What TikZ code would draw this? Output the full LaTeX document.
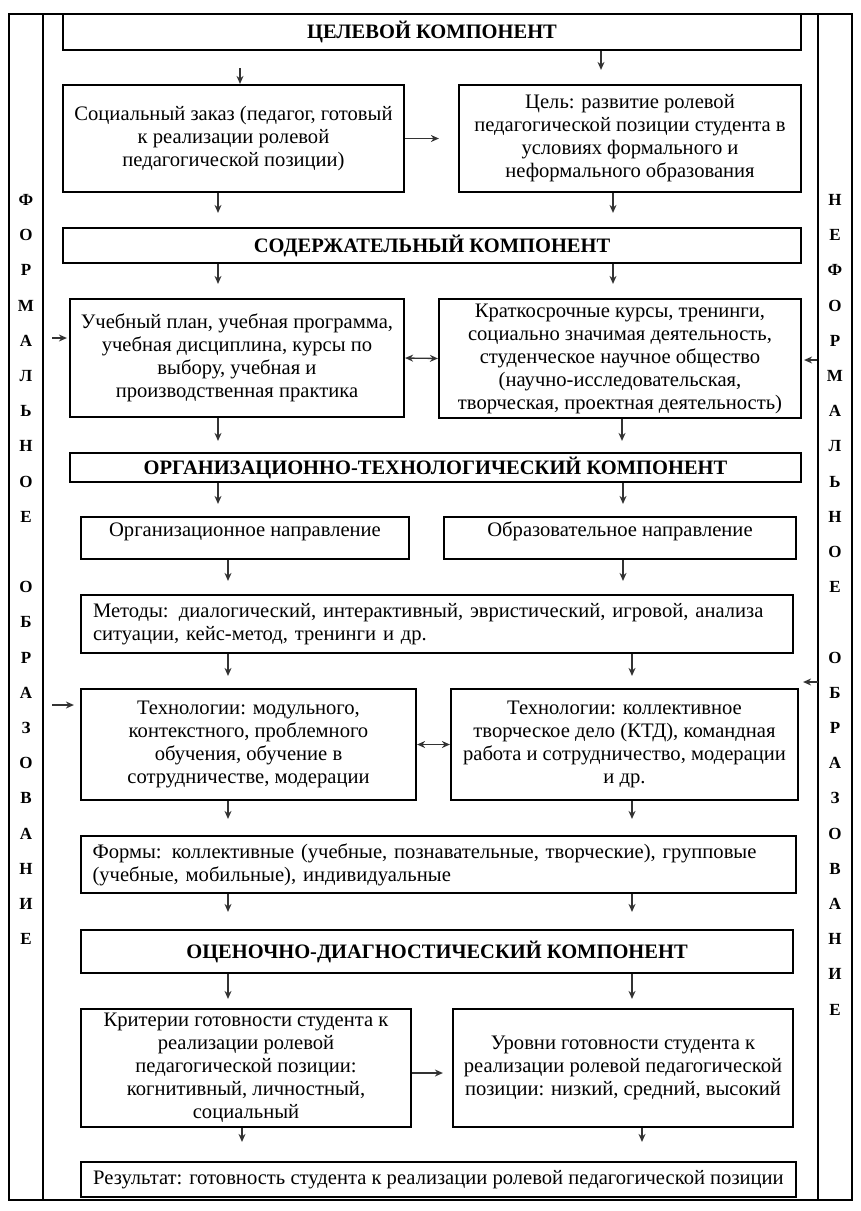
\documentclass[tikz,border=0pt]{standalone}
\usepackage{fontspec}
\setmainfont{Liberation Serif}
\usetikzlibrary{arrows.meta, positioning}

\begin{document}
\begin{tikzpicture}[x = 1pt, y = -1pt,
		blok/.style = {draw, line width = 2.2pt, inner sep = 0pt, align = center, font = \fontsize{20.6}{23}\selectfont},
		zagolovok/.style = {blok, font = \fontsize{20.5}{23}\selectfont\bfseries},
		strelka/.style = {-{Stealth[length = 8pt, width = 7pt]}, line width = 1.3pt, draw = black!80, shorten >= 14pt},
		dvoinaya/.style = {strelka, {Stealth[length = 8pt, width = 7pt]}-{Stealth[length = 8pt, width = 7pt]}, shorten >= 0pt},
		bukva/.style = {font = \fontsize{17}{17}\selectfont\bfseries, inner sep = 0pt}]

		\def\shag{35.2}

		\useasboundingbox (0,0) rectangle (861,1211);

		% ramka
		\draw[line width = 1.6pt] (9,14) rectangle (852,1200);
		\draw[line width = 1.6pt] (43,14) -- (43,1200) (818,14) -- (818,1200);

		\foreach \b [count = \i from 0] in {Ф,О,Р,М,А,Л,Ь,Н,О,Е}
			\node[bukva] (fl\i) at (26, 200 + \i*\shag) {\b};
		\foreach \b [count = \i from 11] in {О,Б,Р,А,З,О,В,А,Н,И,Е}
			\node[bukva] (fl\i) at (26, 200 + \i*\shag) {\b};
		\foreach \b [count = \i from 0] in {Н,Е,Ф,О,Р,М,А,Л,Ь,Н,О,Е}
			\node[bukva] (nf\i) at (835, 200 + \i*\shag) {\b};
		\foreach \b [count = \i from 13] in {О,Б,Р,А,З,О,В,А,Н,И,Е}
			\node[bukva] (nf\i) at (835, 200 + \i*\shag) {\b};

		% bloki
		\node[zagolovok, minimum width = 738pt, minimum height = 36pt] (cel) at (432,32) {ЦЕЛЕВОЙ КОМПОНЕНТ};
		\node[blok, minimum width = 341pt, minimum height = 107pt] (zakaz) at (233.5,138.5)
			{Социальный заказ (педагог, готовый\\ к реализации ролевой\\ педагогической позиции)};
		\node[blok, minimum width = 342pt, minimum height = 107pt] (goal) at (630,138.5)
			{Цель: развитие ролевой\\ педагогической позиции студента в\\ условиях формального и\\ неформального образования};
		\node[zagolovok, minimum width = 738pt, minimum height = 35pt] (sod) at (432,245.5) {СОДЕРЖАТЕЛЬНЫЙ КОМПОНЕНТ};
		\node[blok, minimum width = 334pt, minimum height = 118pt] (uchplan) at (237,358)
			{Учебный план, учебная программа,\\ учебная дисциплина, курсы по\\ выбору, учебная и\\ производственная практика};
		\node[blok, minimum width = 362pt, minimum height = 119pt] (kratko) at (620,358.5)
			{Краткосрочные курсы, тренинги,\\ социально значимая деятельность,\\ студенческое научное общество\\ (научно-исследовательская,\\ творческая, проектная деятельность)};
		\node[zagolovok, minimum width = 731pt, minimum height = 29pt] (org) at (435.5,467.5) {ОРГАНИЗАЦИОННО-ТЕХНОЛОГИЧЕСКИЙ КОМПОНЕНТ};
		\node[blok, minimum width = 328pt, minimum height = 42pt] (orgnapr) at (245,538)
			{Организационное направление\\[-6pt]\mbox{}};
		\node[blok, minimum width = 352pt, minimum height = 42pt] (obrnapr) at (620,538)
			{Образовательное направление\\[-6pt]\mbox{}};
		\node[blok, minimum width = 712pt, minimum height = 58pt, text width = 688pt, align = left] (metody) at (437,624)
			{\makebox[688pt][s]{Методы: диалогический, интерактивный, эвристический, игровой, анализа}\\ ситуации, кейс-метод, тренинги и др.};
		\node[blok, minimum width = 335pt, minimum height = 111pt] (tech1) at (248.5,744.5)
			{Технологии: модульного,\\ контекстного, проблемного\\ обучения, обучение в\\ сотрудничестве, модерации};
		\node[blok, minimum width = 347pt, minimum height = 111pt] (tech2) at (624.5,744.5)
			{Технологии: коллективное\\ творческое дело (КТД), командная\\ работа и сотрудничество, модерации\\ и др.};
		\node[blok, minimum width = 715pt, minimum height = 57pt, text width = 692pt, align = left] (formy) at (438.5,864.5)
			{\makebox[692pt][s]{Формы: коллективные (учебные, познавательные, творческие), групповые}\\ (учебные, мобильные), индивидуальные};
		\node[zagolovok, minimum width = 712pt, minimum height = 43pt] (ocen) at (437,951.5) {ОЦЕНОЧНО-ДИАГНОСТИЧЕСКИЙ КОМПОНЕНТ};
		\node[blok, minimum width = 330pt, minimum height = 118pt] (krit) at (246,1068)
			{Критерии готовности студента к\\ реализации ролевой\\ педагогической позиции:\\ когнитивный, личностный,\\ социальный};
		\node[blok, minimum width = 340pt, minimum height = 118pt] (urov) at (623,1068)
			{Уровни готовности студента к\\ реализации ролевой педагогической\\ позиции: низкий, средний, высокий};
		\node[blok, minimum width = 715pt, minimum height = 35pt] (result) at (438.5,1179.5)
			{Результат: готовность студента к реализации ролевой педагогической позиции};

		% strelki
		\coordinate (s1) at (240,0);
		\coordinate (s2) at (601,0);
		\coordinate (s3) at (218,0);
		\coordinate (s4) at (613,0);
		\coordinate (s5) at (622,0);
		\coordinate (s6) at (623,0);
		\coordinate (s7) at (228,0);
		\coordinate (s8) at (632,0);
		\coordinate (s9) at (242,0);
		\coordinate (s10) at (642,0);

		\draw[strelka, shorten <= 17pt, shorten >= 0pt] (cel.south -| s1) -- (zakaz.north -| s1);
		\draw[strelka] (cel.south -| s2) -- (goal.north -| s2);
		\draw[strelka] (zakaz.south -| s3) -- (sod.north -| s3);
		\draw[strelka] (goal.south -| s4) -- (sod.north -| s4);
		\draw[strelka] (sod.south -| s3) -- (uchplan.north -| s3);
		\draw[strelka] (sod.south -| s4) -- (kratko.north -| s4);
		\draw[strelka, shorten >= 11pt] (uchplan.south -| s3) -- (org.north -| s3);
		\draw[strelka, shorten >= 11pt] (kratko.south -| s5) -- (org.north -| s5);
		\draw[strelka, shorten >= 12pt] (org.south -| s3) -- (orgnapr.north -| s3);
		\draw[strelka, shorten >= 12pt] (org.south -| s6) -- (obrnapr.north -| s6);
		\draw[strelka, shorten >= 13pt] (orgnapr.south -| s7) -- (metody.north -| s7);
		\draw[strelka, shorten >= 13pt] (obrnapr.south -| s6) -- (metody.north -| s6);
		\draw[strelka, shorten >= 12pt] (metody.south -| s7) -- (tech1.north -| s7);
		\draw[strelka, shorten >= 12pt] (metody.south -| s8) -- (tech2.north -| s8);
		\draw[strelka, shorten >= 16pt] (tech1.south -| s7) -- (formy.north -| s7);
		\draw[strelka, shorten >= 16pt] (tech2.south -| s8) -- (formy.north -| s8);
		\draw[strelka, shorten >= 17pt] (formy.south -| s7) -- (ocen.north -| s7);
		\draw[strelka, shorten >= 17pt] (formy.south -| s8) -- (ocen.north -| s8);
		\draw[strelka, shorten >= 9pt] (ocen.south -| s7) -- (krit.north -| s7);
		\draw[strelka, shorten >= 9pt] (ocen.south -| s8) -- (urov.north -| s8);
		\draw[strelka, shorten >= 19pt] (krit.south -| s9) -- (result.north -| s9);
		\draw[strelka, shorten >= 19pt] (urov.south -| s10) -- (result.north -| s10);

		\draw[strelka, shorten >= 19pt] (zakaz.east) -- (goal.west);
		\draw[dvoinaya] (uchplan.east) -- (kratko.west);
		\draw[dvoinaya] (tech1.east) -- (tech2.west);
		\draw[strelka, shorten >= 9pt] ([yshift = -5pt]krit.east) -- ([yshift = -5pt]urov.west);

		% vhody s bokov
		\coordinate (vhod1) at (52,338);
		\coordinate (vhod2) at (52,705);
		\coordinate (vhod3) at (817,360);
		\coordinate (vhod4) at (818,682);
		\draw[strelka, shorten >= 2pt] (vhod1) -- (vhod1 -| uchplan.west);
		\draw[strelka, shorten >= 6pt] (vhod2) -- (vhod2 -| tech1.west);
		\draw[strelka, shorten >= 2pt] (vhod3) -- (vhod3 -| kratko.east);
		\draw[strelka, shorten >= 4pt] (vhod4) -- (vhod4 -| tech2.east);
	\end{tikzpicture}
\end{document}
